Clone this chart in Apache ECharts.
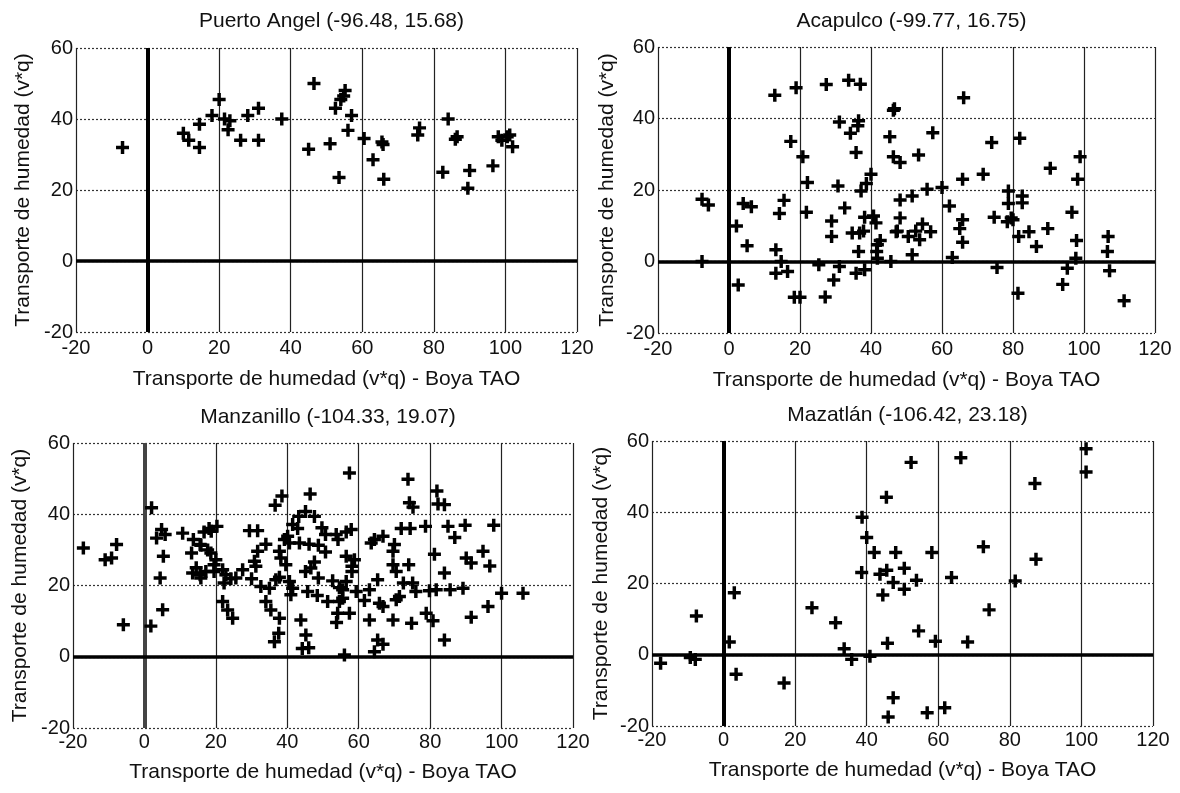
<!DOCTYPE html>
<html>
<head>
<meta charset="utf-8">
<script src="https://cdn.jsdelivr.net/npm/echarts@6/dist/echarts.min.js"></script>
<style>
  html, body { margin: 0; padding: 0; background: #fff; }
  #chart { width: 1180px; height: 793px; }
</style>
</head>
<body>
<div id="chart"></div>
<script>
// station titles, one per panel
const titles = [
  "Puerto Angel (-96.48, 15.68)",
  "Acapulco (-99.77, 16.75)",
  "Manzanillo (-104.33, 19.07)",
  "Mazatlán (-106.42, 23.18)"
];
const xName = "Transporte de humedad (v*q) - Boya TAO";
const yName = "Transporte de humedad (v*q)";

// [Boya TAO, estación] pairs
const puertoAngel = [
  [-7, 32], [10, 36], [11.5, 34], [14.5, 32], [14.5, 38.5], [18, 41], [20, 45.5],
  [21.5, 40], [22.5, 37], [23, 39.5], [26, 34], [28, 41], [31, 34], [31, 43],
  [37.5, 40], [45, 31.5], [46.5, 50], [51, 33], [52.5, 43], [53.5, 23.5],
  [54, 45.5], [54.8, 46.5], [55.2, 48], [56, 36.8], [57, 41], [60.5, 34.5],
  [63, 28.5], [65.5, 33.5], [65.8, 32.8], [66, 23], [75.5, 35.5], [76, 37.5],
  [82.5, 25], [84, 40], [86, 34.3], [86.5, 35], [89.5, 20.5], [90, 25.5],
  [96.5, 26.8], [98, 35], [99, 34], [100.5, 35], [101.2, 35.5], [102, 32.2]
];

const acapulco = [
  [-7.6, 17.4], [-5.8, 15.8], [-7.6, 0], [2.1, 9.9], [2.6, -6.6], [4, 16.2],
  [6.3, 15.3], [5.1, 4.4], [12.9, 46.5], [13.2, 3.3], [13.2, -3.3], [14.2, 13.4],
  [15.5, 17.1], [14.7, 0], [16.5, -2.8], [17.4, 33.6], [18.9, 48.6], [18.4, -10],
  [20, -10], [20.8, 29.3], [22.1, 22.1], [21.8, 13.8], [25.3, -0.9], [27.4, 49.5],
  [27.1, -9.9], [28.9, 11.3], [28.9, 7], [29.5, -5.2], [30.7, 21.1], [31.1, 39],
  [31.1, -1.4], [32.6, 15], [33.7, 50.7], [34.2, 35.9], [34.7, 8], [35.8, 30.5],
  [35.8, -3.3], [36.3, 38], [36.5, 39.4], [37, 49.6], [36.8, 8], [36.5, 2.8],
  [37.2, 19.7], [37.9, 8.5], [38.2, -2.3], [38.7, 21.8], [38.2, 12.4], [40, 24.4],
  [40.7, 12.7], [41.4, 10.8], [41.8, 4.7], [42.6, 5.9], [41.6, 2.8], [41.8, 0.9],
  [45.6, 0], [45.3, 34.9], [46.3, 42.3], [46.6, 42.7], [46.3, 29.3], [47.1, 8.3],
  [48.2, 27.7], [48.2, 17.2], [48.2, 12.2], [47.4, 8.5], [50.5, 7], [51.6, 18.3],
  [51.6, 1.9], [52.6, 8.5], [53.4, 29.8], [53.7, 6.1], [54.5, 10.5], [55.8, 20.2],
  [56.8, 8.3], [57.4, 36], [60, 20.7], [62.1, 15.5], [62.9, 1.1], [65, 9.2],
  [65.8, 11.7], [65.8, 5.4], [65.8, 23], [66.1, 45.8], [71.6, 24.4], [74, 33.3],
  [74.7, 12.4], [75.5, -1.7], [78.7, 19.7], [78.7, 16.2], [78.4, 11.1], [79.5, 12.2],
  [80, 11.7], [81.9, 34.5], [81.6, 7], [81.4, -8.9], [82.6, 18.3], [82.6, 16.4],
  [84.5, 8.3], [86.6, 4.2], [89.8, 9.2], [90.5, 26.1], [94, -6.4], [95.3, -1.9],
  [96.6, 13.8], [97.7, 0.9], [97.9, 5.9], [98.2, 23], [98.9, 29.3], [106.8, 7],
  [106.6, 2.8], [107.2, -2.6], [111.3, -11]
];

const manzanillo = [
  [-17.1, 30.5], [-11, 27.2], [-9.2, 27.7], [-7.8, 31.5], [-5.9, 9], [2, 41.8],
  [1.8, 8.6], [3.4, 33.3], [4.8, 35.7], [5.8, 34.3], [5.3, 28.2], [4.4, 22.1],
  [5.1, 13.2], [10.7, 34.7], [13.7, 32.9], [13.2, 29.1], [13.5, 23.5], [14.5, 25],
  [15.6, 31.5], [15.6, 23], [17.7, 30], [18.7, 35.2], [20.3, 36.6],
  [57.4, 51.6], [73.8, 49.8], [38.5, 45.1], [36.6, 42.5], [46.4, 45.7], [81.9, 46.5],
  [74.2, 43.2], [75.2, 42], [82.2, 42.9], [84, 42.7], [45.1, 40.8], [43.2, 39.4],
  [47.6, 39.4], [18.1, 36], [16.7, 35], [29.4, 35.4], [31.7, 35.4], [41.5, 37.1],
  [42.9, 36], [49.7, 36.2], [50.7, 34.3], [57.9, 35.7], [56.5, 35], [53.7, 34.3],
  [54.2, 32.9], [71.9, 36], [74.4, 36], [78.7, 36.6], [85, 36.6], [86.9, 33.5],
  [89.8, 36.9], [97.8, 36.9], [15.8, 31.3], [34, 31.6], [39.2, 32.9], [40.1, 33.8],
  [40.6, 31.9], [43.4, 31.9], [46.1, 31.6], [48.7, 31.3], [63.5, 31.9], [64.4, 32.9],
  [66.8, 33.8], [70, 31.5], [50.7, 29.4], [18.6, 29.1], [31.7, 29.6], [37.8, 29.6],
  [38.2, 27.7], [56.5, 28.2], [58.8, 27.2], [69.6, 29.6], [81.2, 28.8], [94.8, 29.6],
  [90.1, 27.7], [91.5, 26.3], [96.7, 25.5], [30.8, 26.8], [31.2, 25.4], [47.6, 26.6],
  [46.6, 24.9], [39.6, 25.8], [19.5, 25.8], [20, 27.2], [58.1, 25.4], [58.1, 23.9],
  [69.6, 25.8], [70.5, 23.9], [74, 25.8], [84, 23.5], [17.2, 23.9], [19.5, 23.9],
  [21.9, 24.4], [22.8, 23], [27.5, 24.4], [45.1, 23.9], [48.7, 22.1], [25.6, 22.1],
  [24.2, 21.9], [30, 21.9], [15.8, 22.1], [22.3, 20.7], [36.8, 21.6], [37.8, 22.3],
  [40.6, 21.1], [52.7, 21.3], [56.5, 21.1], [65.3, 21.6], [32.6, 19.7], [35, 19.2],
  [41.5, 19.2], [54.6, 19.4], [55.5, 18.8], [63, 18.8], [72.5, 20.7], [75.1, 20.7],
  [76, 18.3], [79.8, 18.5], [81.7, 18.8], [85.6, 18.8], [89.2, 19.2], [100, 17.8],
  [106, 17.8], [45.7, 18.3], [48.4, 17.2], [41, 17.4], [55.5, 16.4], [59.3, 18.3],
  [61.6, 15.8], [65.8, 15], [66.8, 14.1], [70.5, 16], [71.4, 16.9], [51.3, 15.5],
  [54.6, 15.5], [34, 15.5], [21.9, 15.5], [23.3, 13.1], [24.7, 10.8], [35.4, 13.1],
  [37.8, 10.8], [54.1, 12.2], [53.8, 9.6], [57.4, 12.2], [43.8, 10.3], [63, 10.3],
  [69.6, 10.3], [74.8, 9.4], [78.9, 12.2], [80.8, 10.1], [91.5, 11.1], [96.2, 14.1],
  [45.2, 6.1], [37.6, 6.6], [36.4, 4.2], [44.2, 2.3], [46, 2.5], [65.3, 4.7],
  [66.8, 3.5], [64.4, 1.4], [84, 4.7], [56, 0.5]
];

const mazatlan = [
  [-17.6, -2.4], [-9.3, -0.8], [-7.9, -1.3], [-7.6, 10.9], [1.6, 3.6], [3, 17.4],
  [3.5, -5.5], [16.9, -7.9], [24.7, 13.2], [31.3, 9], [33.7, 1.7], [35.8, -1.3],
  [40.9, -0.4], [38.6, 23.1], [38.7, 38.6], [40, 32.9], [42.1, 28.7], [43.7, 22.6],
  [45.6, 23.7], [44.5, 16.8], [45.5, 44.2], [47.4, 20.3], [48.1, 28.7], [50.5, 24.3],
  [50.5, 18.4], [52.4, 54], [53.9, 20.9], [54.5, 6.7], [58.2, 28.7], [59.2, 3.8],
  [63.7, 21.7], [66.3, 55.3], [68.2, 3.6], [72.6, 30.3], [74.2, 12.6], [81.5, 20.7],
  [87, 48.1], [87.3, 26.8], [101.3, 57.8], [101.3, 51.3], [45.8, 3.2], [47.4, -12.1],
  [46, -17.5], [56.9, -16.3], [61.8, -14.9]
];

const panels = [puertoAngel, acapulco, manzanillo, mazatlan];

const grids = [
  { left: 76, top: 48, width: 501, height: 284 },
  { left: 658, top: 47, width: 497, height: 286 },
  { left: 73, top: 443, width: 500, height: 285 },
  { left: 652, top: 441, width: 501, height: 285 }
];
const titleTops = [6, 6, 402, 400];

const FONT = "'Liberation Sans', Arial, sans-serif";
const INK = "#111";
const PLUS = "path://M4.4,0h3.2v4.4h4.4v3.2h-4.4v4.4h-3.2v-4.4h-4.4v-3.2h4.4z";

const chart = echarts.init(document.getElementById("chart"), null, { renderer: "canvas" });

const option = {
  backgroundColor: "#fff",
  animation: false,
  textStyle: { fontFamily: FONT, color: INK },
  title: titles.map((t, i) => ({
    text: t,
    left: grids[i].left + grids[i].width / 2,
    top: titleTops[i],
    textAlign: "center",
    textStyle: { fontFamily: FONT, fontSize: 21, fontWeight: "normal", color: INK }
  })),
  grid: grids.map((g) => ({ ...g, containLabel: false })),
  xAxis: grids.map((g, i) => ({
    type: "value",
    gridIndex: i,
    min: -20,
    max: 120,
    interval: 20,
    name: xName,
    nameLocation: "middle",
    nameGap: i < 2 ? 37 : 34,
    nameTextStyle: { fontFamily: FONT, fontSize: 21, color: INK },
    axisLine: { show: false, onZero: false },
    axisTick: { show: false },
    axisLabel: { fontFamily: FONT, fontSize: 20, color: INK, margin: i < 2 ? 6 : 4 },
    splitLine: { show: true, lineStyle: { color: "#222", width: 1.2, type: "solid" } }
  })),
  yAxis: grids.map((g, i) => ({
    type: "value",
    gridIndex: i,
    min: -20,
    max: 60,
    interval: 20,
    name: yName,
    nameLocation: "middle",
    nameGap: i % 2 === 0 ? 42 : 40,
    nameRotate: 90,
    nameTextStyle: { fontFamily: FONT, fontSize: 21, color: INK },
    axisLine: { show: false, onZero: false },
    axisTick: { show: false },
    axisLabel: { fontFamily: FONT, fontSize: 20, color: INK, margin: 3 },
    splitLine: { show: true, lineStyle: { color: "#333", width: 1.2, type: [2, 2] } }
  })),
  series: panels.map((data, i) => ({
    type: "scatter",
    xAxisIndex: i,
    yAxisIndex: i,
    data: data,
    symbol: PLUS,
    symbolSize: 13,
    itemStyle: { color: "#000", opacity: 1 },
    silent: true,
    markLine: {
      silent: true,
      symbol: ["none", "none"],
      label: { show: false },
      z: 1,
      data: [
        { xAxis: 0, lineStyle: { color: i === 2 ? "#444" : "#000", width: 4, type: "solid" } },
        { yAxis: 0, lineStyle: { color: "#000", width: 3.5, type: "solid" } }
      ]
    }
  }))
};

chart.setOption(option);
</script>
</body>
</html>
